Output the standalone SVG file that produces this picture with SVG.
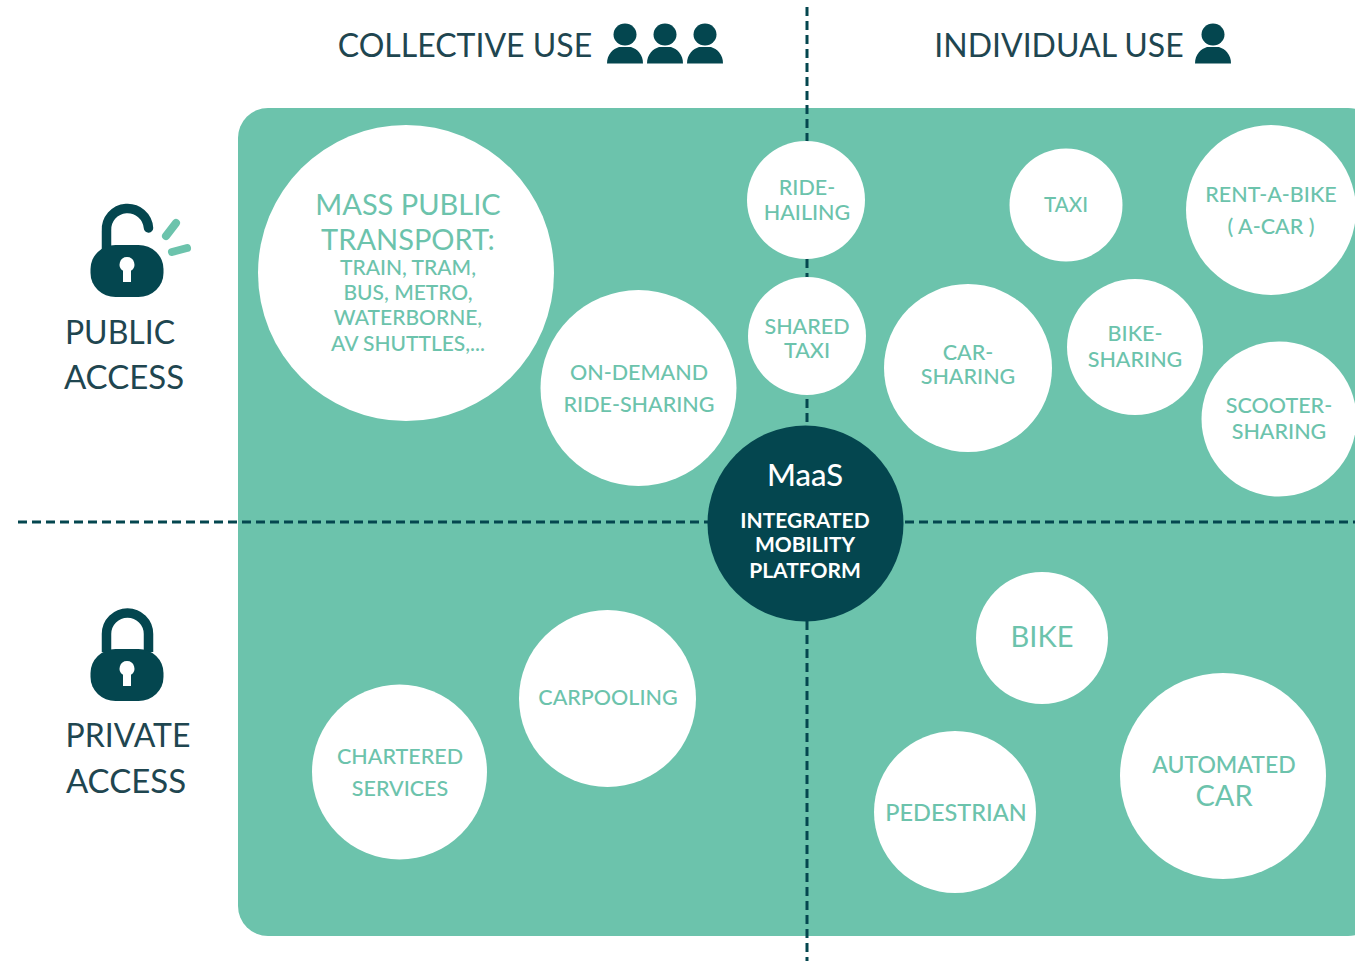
<svg xmlns="http://www.w3.org/2000/svg" width="1355" height="961" viewBox="0 0 1355 961">
<style>
text{font-family:Lato,"Noto Sans","Liberation Sans",sans-serif;text-anchor:middle}
.h{fill:#1f4650;font-size:32px}
.n{fill:#6cc3ac;font-size:21.500px;font-weight:500}
.s{font-size:21px}
.m{font-size:29px;font-weight:400}
.c{fill:#fff}
.d{fill:#04464f}
.l{stroke:#04464f;stroke-width:3;stroke-dasharray:9 5;fill:none}
.w{fill:#fff}
.sh{fill:none;stroke:#04464f;stroke-width:9.500}
</style>
<defs>
<g id="person" class="d"><ellipse cx="0" cy="-8.500" rx="11.500" ry="11"/><path d="M-18 20.500C-18 11-12 6-6 4H6C12 6 18 11 18 20.500Z"/></g>
<g id="body" class="d"><rect x="-36.500" y="-31" width="73" height="52" rx="25" ry="24"/><path class="w" d="M0-19a7.500 7.500 0 0 1 4 13.800V6H-4V-5.200A7.500 7.500 0 0 1 0-19Z"/></g>
</defs>
<rect x="238" y="108" width="1140" height="828" rx="30" fill="#6cc3ac"/>
<g id="connectors">
<path class="l" d="M807 7V426M807 621V961M18 522H708M905 522H1355"/>
</g>
<g id="header-collective"><text class="h" x="465" y="57">COLLECTIVE USE</text><use href="#person" x="625" y="43"/><use href="#person" x="665" y="43"/><use href="#person" x="705" y="43"/></g>
<g id="header-individual"><text class="h" x="1059" y="57">INDIVIDUAL USE</text><use href="#person" x="1213" y="43"/></g>
<g id="public-access">
<path class="sh" stroke-linecap="round" d="M106.500 250V231A21 21 0 0 1 148.500 228"/>
<use href="#body" x="127" y="276"/>
<path d="M166 236L176 223M172 252L187 248" stroke="#6cc3ac" stroke-width="8" stroke-linecap="round"/>
<text class="h" x="120" y="344">PUBLIC</text><text class="h" style="font-size:33px" x="124" y="389">ACCESS</text></g>
<g id="private-access">
<path class="sh" d="M106.500 652V634A21 21 0 0 1 148.500 634V652"/>
<use href="#body" x="127" y="680"/>
<text class="h" x="128" y="747">PRIVATE</text><text class="h" style="font-size:33px" x="126" y="793">ACCESS</text></g>
<g id="mass"><circle class="c" cx="406" cy="273" r="148"/><text class="n m" x="408" y="215">MASS PUBLIC</text><text class="n m" x="408" y="250">TRANSPORT:</text><text class="n s" x="408" y="275">TRAIN, TRAM,</text><text class="n s" x="408" y="300">BUS, METRO,</text><text class="n s" x="408" y="325">WATERBORNE,</text><text class="n s" x="408" y="351">AV SHUTTLES,...</text></g>
<g id="ride-hailing"><circle class="c" cx="806" cy="200" r="59"/><text class="n" x="807" y="195">RIDE-</text><text class="n" x="807" y="220">HAILING</text></g>
<g id="taxi"><circle class="c" cx="1066" cy="205" r="56.500"/><text class="n" style="font-size:20.500px" x="1066" y="212">TAXI</text></g>
<g id="rent"><circle class="c" cx="1271" cy="210" r="85"/><text class="n" x="1271" y="202">RENT-A-BIKE</text><text class="n" x="1271" y="234">( A-CAR )</text></g>
<g id="shared-taxi"><circle class="c" cx="807" cy="336" r="59"/><text class="n" x="807" y="334">SHARED</text><text class="n" x="807" y="358">TAXI</text></g>
<g id="car-sharing"><circle class="c" cx="968" cy="368" r="84"/><text class="n" x="968" y="360">CAR-</text><text class="n" x="968" y="384">SHARING</text></g>
<g id="bike-sharing"><circle class="c" cx="1135" cy="347" r="68"/><text class="n" x="1135" y="341">BIKE-</text><text class="n" x="1135" y="367">SHARING</text></g>
<g id="scooter"><circle class="c" cx="1279" cy="419" r="77.500"/><text class="n" x="1279" y="413">SCOOTER-</text><text class="n" x="1279" y="439">SHARING</text></g>
<g id="on-demand"><circle class="c" cx="638.500" cy="388" r="98"/><text class="n" x="639" y="380">ON-DEMAND</text><text class="n" x="639" y="412">RIDE-SHARING</text></g>
<g id="maas"><circle class="d" cx="805.500" cy="523.500" r="98"/><text x="805" y="486" fill="#fff" font-size="31" font-weight="500">MaaS</text><g fill="#fff" font-size="21" font-weight="700"><text x="805" y="528">INTEGRATED</text><text x="805" y="552">MOBILITY</text><text x="805" y="578">PLATFORM</text></g></g>
<g id="carpooling"><circle class="c" cx="607.500" cy="698.500" r="88.500"/><text class="n" x="608" y="705">CARPOOLING</text></g>
<g id="chartered"><circle class="c" cx="399.500" cy="772" r="87.500"/><text class="n" x="400" y="764">CHARTERED</text><text class="n" x="400" y="796">SERVICES</text></g>
<g id="bike"><circle class="c" cx="1042" cy="638" r="66"/><text class="n m" x="1042" y="647">BIKE</text></g>
<g id="pedestrian"><circle class="c" cx="955" cy="812" r="81"/><text class="n" style="font-size:23.500px" x="956" y="821">PEDESTRIAN</text></g>
<g id="automated"><circle class="c" cx="1223" cy="776" r="103"/><text class="n" style="font-size:23px" x="1224" y="773">AUTOMATED</text><text class="n m" x="1224" y="806">CAR</text></g>
</svg>
